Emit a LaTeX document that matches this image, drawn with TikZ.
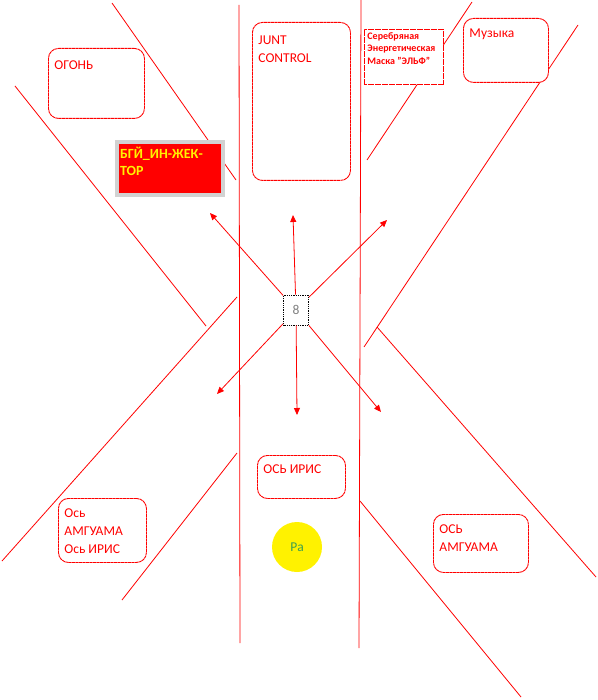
\documentclass[tikz,border=0pt]{standalone}
\usepackage{fontspec}
\setmainfont{Carlito}
\usepackage{tikz}
\usetikzlibrary{arrows.meta}
\definecolor{ragreen}{RGB}{60,160,80}
\newcommand{\boxtext}[4]{\parbox[t][#2][t]{#1}{\vspace*{#3}\raggedright #4}}

\begin{document}
\begin{tikzpicture}[x=1pt,y=-1pt,
        tbox/.style={draw=red,line width=0.9pt,dash pattern=on 3pt off 0.5pt,rounded corners=10pt,fill=white,
            anchor=north west,inner xsep=6pt,inner ysep=0pt,text=red,
            font=\fontsize{13.5}{18}\selectfont},
        smallbox/.style={tbox,rounded corners=0pt,inner xsep=3pt,
            font=\fontsize{10}{12.5}\selectfont\bfseries},
        arr/.style={draw=red,line width=0.8pt,-{Triangle[length=7pt,width=6pt]}}]
    \useasboundingbox (0,0) rectangle (597,700);
    %lines
    \foreach \xa/\ya/\xb/\yb in {112/3/236/180, 15/86/206/326, 237/297/2/561, 237/453/122/600,
        472/2/367/160, 578/25/364/347, 377/327/596/577, 360/501/521/697,
        239/5/240/643, 361/0/359/648} {
        \draw[red,line width=0.8pt] (\xa,\ya) -- (\xb,\yb);}
    %boxes
    \node[tbox] (ogon) at (48,48) {\boxtext{84pt}{70pt}{12pt}{ОГОНЬ}};
    \node[tbox] (junt) at (252,22) {\boxtext{86pt}{158pt}{13pt}{JUNT\\CONTROL}};
    \node[smallbox] (elf) at (364,29) {\boxtext{73pt}{55pt}{3pt}{Серебряная\\Энергетическая\\Маска "ЭЛЬФ"}};
    \node[tbox] (muz) at (463,18) {\boxtext{73pt}{64pt}{10pt}{Музыка}};
    \node[tbox,draw=gray!35,line width=4pt,solid,rounded corners=0pt,fill=red,text=yellow,
        inner xsep=3pt,font=\fontsize{14}{17}\selectfont\bfseries] (bgj) at (115,140)
        {\boxtext{100pt}{53pt}{5pt}{БГЙ\_ИН-ЖЕК-\\ТОР}};
    \node[tbox] (iris) at (257,455) {\boxtext{76pt}{43pt}{9pt}{ОСЬ ИРИС}};
    \node[tbox] (amgl) at (58,498) {\boxtext{76pt}{64pt}{10pt}{Ось\\АМГУАМА\\Ось ИРИС}};
    \node[tbox] (amgr) at (433,514) {\boxtext{83pt}{58pt}{10pt}{ОСЬ\\АМГУАМА}};
    \node[circle,fill=yellow,minimum size=50pt,inner sep=0pt,text=ragreen,
        font=\fontsize{13.5}{16}\selectfont] (ra) at (297,547) {Ра};
    \node[draw=black,line width=0.8pt,densely dotted,fill=white,minimum width=25pt,minimum height=30pt,
        text=gray,font=\fontsize{13.5}{16}\selectfont] (n8) at (296,310) {8};
    %arrows
    \foreach \name/\xx/\yy in {ul/210/213, up/293/215, ur/387/220, dl/217/394, dn/297/415, dr/381/412} {
        \coordinate (\name) at (\xx,\yy);
        \draw[arr] (n8) -- (\name);}
\end{tikzpicture}
\end{document}
